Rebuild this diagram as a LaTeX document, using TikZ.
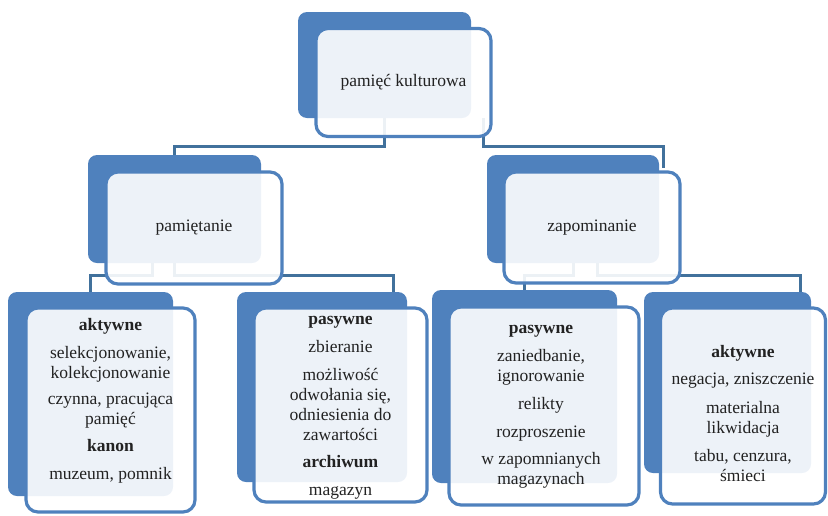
\documentclass[tikz,border=0pt]{standalone}
\usepackage{fontspec}
\setmainfont{Liberation Serif}
\usetikzlibrary{backgrounds}
\definecolor{boxblue}{HTML}{4F81BD}
\definecolor{linkblue}{HTML}{41719C}
\definecolor{txtgray}{HTML}{222222}
\tikzstyle{back} = [rectangle, rounded corners=9pt, fill=boxblue, inner sep=0]
\tikzstyle{front} = [rectangle, rounded corners=12pt, draw=boxblue, line width=3.2pt, fill=white, fill opacity=0.9, text opacity=1, inner sep=0, text=txtgray, align=center, font=\fontsize{17.5}{20}\selectfont]
\tikzstyle{lbl} = [text=txtgray, align=center, inner sep=0, font=\fontsize{17.5}{20}\selectfont]
\tikzstyle{line} = [draw=linkblue, line width=3pt]
\begin{document}
\begin{tikzpicture}[x=1pt, y=-1pt]
\useasboundingbox (0,0) rectangle (828,515);

\node [back, minimum width=173pt, minimum height=106pt] (topB) at (384.5,65) {};
\node [front, minimum width=175pt, minimum height=108pt] (topF) at (403.5,82.5) {pamięć kulturowa};

\node [back, minimum width=173pt, minimum height=108pt] (pamB) at (174.5,209) {};
\node [front, minimum width=176pt, minimum height=112pt] (pamF) at (194,228) {pamiętanie};
\node [back, minimum width=172pt, minimum height=108pt] (zapB) at (573,209) {};
\node [front, minimum width=176pt, minimum height=111pt] (zapF) at (592,227.5) {zapominanie};

\node [back, minimum width=165pt, minimum height=204pt] (akB) at (90.5,394) {};
\node [front, minimum width=169pt, minimum height=204pt] (akF) at (110.5,410) {};
\node [back, minimum width=170pt, minimum height=190pt] (paB) at (322,387) {};
\node [front, minimum width=173pt, minimum height=194pt] (paF) at (340.5,405) {};
\node [back, minimum width=185pt, minimum height=193pt] (pzB) at (524.5,386.5) {};
\node [front, minimum width=190pt, minimum height=198pt] (pzF) at (544,406) {};
\node [back, minimum width=167pt, minimum height=181pt] (azB) at (727.5,382.5) {};
\node [front, minimum width=165pt, minimum height=196pt] (azF) at (743,406) {};

\node [lbl, yshift=9pt] (akT) at (akF) {\textbf{aktywne}\\[8pt] selekcjonowanie,\\ kolekcjonowanie\\[6pt] czynna, pracująca\\ pamięć\\[7pt] \textbf{kanon}\\[8pt] muzeum, pomnik};
\node [lbl, yshift=-3pt] (paT) at (paF) {\textbf{pasywne}\\[8pt] zbieranie\\[8pt] możliwość\\ odwołania się,\\ odniesienia do\\ zawartości\\[7pt] \textbf{archiwum}\\[8pt] magazyn};
\node [lbl, xshift=-3pt, yshift=-1pt] (pzT) at (pzF) {\textbf{pasywne}\\[8pt] zaniedbanie,\\ ignorowanie\\[8pt] relikty\\[8pt] rozproszenie\\[7pt] w zapomnianych\\ magazynach};
\node [lbl, yshift=-8pt] (azT) at (azF) {\textbf{aktywne}\\[7pt] negacja, zniszczenie\\[9pt] materialna\\ likwidacja\\[8pt] tabu, cenzura,\\ śmieci};

\coordinate (topR) at (483,118);
\coordinate (zapIn) at (663,168);
\coordinate (pamL) at (152,263);
\coordinate (paIn) at (393,292);
\coordinate (zapR) at (597,263);
\coordinate (azIn) at (800,292);

\begin{scope}[on background layer]
\path [line] (topB.south) -- ++(0,28) -| (pamB.north);
\path [line] (topR) -- ++(0,28) -| (zapIn);
\path [line] (pamL) -- ++(0,12) -| (akB.north);
\path [line] (pamB.south) -- ++(0,12) -| (paIn);
\path [line] (zapB.south) -- ++(0,12) -| (pzB.north);
\path [line] (zapR) -- ++(0,12) -| (azIn);
\end{scope}

\end{tikzpicture}
\end{document}
